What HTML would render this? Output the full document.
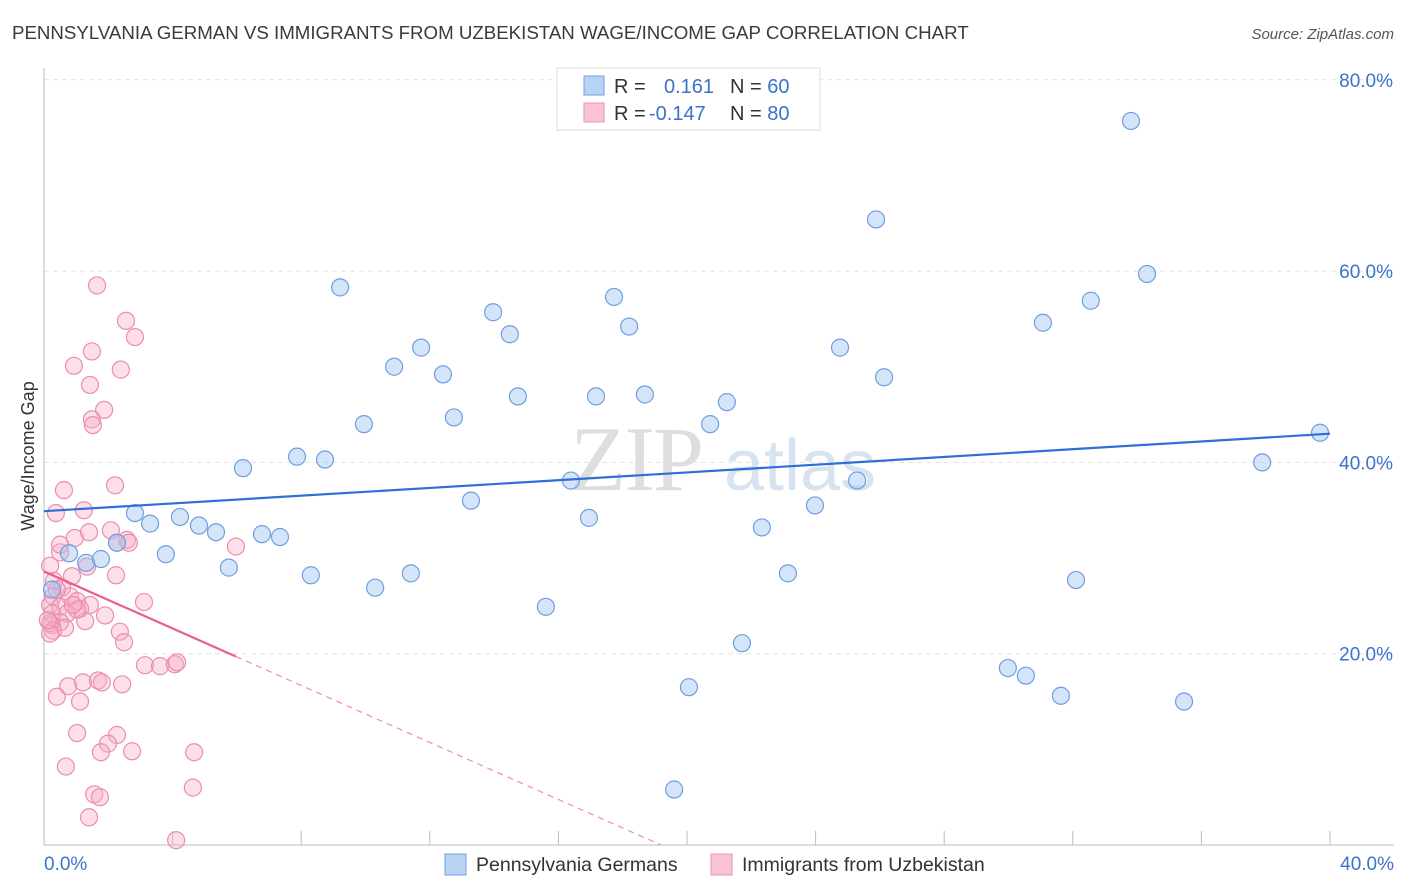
<!DOCTYPE html>
<html><head><meta charset="utf-8">
<style>
body{margin:0;background:#fff;font-family:"Liberation Sans",sans-serif;}
svg{display:block}
</style></head>
<body>
<svg id="chart" width="1406" height="892" xmlns="http://www.w3.org/2000/svg">
<text x="12" y="39" font-size="18.7" fill="#3a3a3a">PENNSYLVANIA GERMAN VS IMMIGRANTS FROM UZBEKISTAN WAGE/INCOME GAP CORRELATION CHART</text>
<text x="1394" y="39" font-size="15" fill="#555" font-style="italic" text-anchor="end">Source: ZipAtlas.com</text>
<text x="0" y="0" transform="translate(34,456) rotate(-90)" font-size="18" fill="#333" text-anchor="middle">Wage/Income Gap</text>
<g id="grid"></g>
<g>
<text x="636" y="490" font-size="92" font-family="Liberation Serif,serif" fill="#dedede" text-anchor="middle" letter-spacing="-2">ZIP</text>
<text x="800" y="490" font-size="72" fill="#d8e3f2" text-anchor="middle">atlas</text>
</g>
<g id="axes"></g>
<g id="pinkDots"></g>
<g id="blueDots"></g>
<g id="trends"></g>
<g>
<rect x="557" y="68" width="263" height="62" fill="#fff" stroke="#ddd"/>
<rect x="584" y="76" width="20" height="19" fill="#b9d3f5" stroke="#6e9fe0"/>
<rect x="584" y="103" width="20" height="19" fill="#f9c3d3" stroke="#ec93b0"/>
<text x="614" y="93" font-size="20" fill="#333">R = <tspan x="664" fill="#3a72cc">0.161</tspan><tspan x="730" fill="#333">N = </tspan><tspan fill="#3a72cc">60</tspan></text>
<text x="614" y="120" font-size="20" fill="#333">R = <tspan x="649" fill="#3a72cc">-0.147</tspan><tspan x="730" fill="#333">N = </tspan><tspan fill="#3a72cc">80</tspan></text>
</g>
<g>
<rect x="445" y="854" width="21" height="21" fill="#b9d3f5" stroke="#6e9fe0"/>
<text x="476" y="871" font-size="19.5" fill="#333">Pennsylvania Germans</text>
<rect x="711" y="854" width="21" height="21" fill="#f9c3d3" stroke="#ec93b0"/>
<text x="742" y="871" font-size="19.5" fill="#333">Immigrants from Uzbekistan</text>
</g>
</svg>
<script>
const yTicks=[20,40,60,80];
const yTickLabels=["20.0%","40.0%","60.0%","80.0%"];
const xTicks=[4,8,12,16,20,24,28,32,36,40];
const xEndLabels=["0.0%","40.0%"];
const blueX=[0.78,1.31,1.77,2.27,2.83,3.30,3.79,4.23,4.82,5.35,5.75,6.19,6.78,7.34,7.87,8.30,8.74,9.21,9.95,10.30,10.89,11.41,11.73,12.41,12.75,13.28,13.97,14.49,14.74,15.61,16.39,16.95,17.17,17.73,18.20,18.69,19.60,20.06,20.72,21.24,21.71,22.33,23.14,23.98,24.76,25.29,25.88,26.13,29.98,30.54,31.07,31.63,32.10,32.56,33.81,34.31,35.46,37.89,39.69,0.25];
const blueY=[30.5,29.5,29.9,31.6,34.7,33.6,30.4,34.3,33.4,32.7,29.0,39.4,32.5,32.2,40.6,28.2,40.3,58.3,44.0,26.9,50.0,28.4,52.0,49.2,44.7,36.0,55.7,53.4,46.9,24.9,38.1,34.2,46.9,57.3,54.2,47.1,5.8,16.5,44.0,46.3,21.1,33.2,28.4,35.5,52.0,38.1,65.4,48.9,18.5,17.7,54.6,15.6,27.7,56.9,75.7,59.7,15.0,40.0,43.1,26.7];
const pinkX=[1.65,2.55,2.83,1.49,0.93,2.39,1.43,1.87,1.49,1.52,0.62,2.21,0.37,1.24,0.96,1.40,2.08,2.58,2.64,2.27,5.97,0.50,1.34,2.24,0.19,0.87,0.31,0.56,0.81,0.28,1.03,1.43,3.11,0.19,0.50,1.12,0.25,0.72,1.90,1.28,0.50,0.25,1.03,0.65,0.90,2.36,2.49,0.19,0.28,0.19,3.14,3.61,4.07,4.14,0.75,1.21,1.68,1.80,2.43,0.40,1.12,1.03,2.27,1.99,1.77,2.74,4.67,0.68,4.63,1.56,1.74,1.40,4.11,0.40,0.12,0.50];
const pinkY=[58.5,54.8,53.1,51.6,50.1,49.7,48.1,45.5,44.5,43.9,37.1,37.6,34.7,35.0,32.1,32.7,32.9,31.9,31.6,31.6,31.2,30.6,29.1,28.2,29.2,28.1,27.6,26.9,26.0,26.0,25.5,25.1,25.4,25.1,24.9,24.7,24.2,24.2,24.0,23.4,23.3,23.0,24.6,22.7,25.1,22.3,21.2,23.2,22.4,22.1,18.8,18.7,18.9,19.1,16.6,17.0,17.2,17.0,16.8,15.5,15.0,11.7,11.5,10.6,9.7,9.8,9.7,8.2,6.0,5.3,5.0,2.9,0.5,26.7,23.5,31.4];
const blueTrend=[34.9,0.2025];
const pinkTrend=[28.6,-1.49];

const X0=44,X1=1330,Y0=845,PX_PER_Y=191.3/20;
const xs=v=>X0+(v/40)*(X1-X0);
const ys=v=>Y0-v*PX_PER_Y;
const NS="http://www.w3.org/2000/svg";
function mk(tag,attrs,parent){const e=document.createElementNS(NS,tag);for(const k in attrs)e.setAttribute(k,attrs[k]);parent.appendChild(e);return e;}
const grid=document.getElementById('grid'),axes=document.getElementById('axes');
yTicks.forEach((t,i)=>{
  const g=mk('line',{x1:44,x2:1394,y1:ys(t),y2:ys(t),stroke:'#e2e2e2','stroke-dasharray':'5,4'},grid);
  
  
  const l=mk('text',{x:1393,y:ys(t)+7,'font-size':19,fill:'#3a72cc','text-anchor':'end'},axes);
  l.textContent=yTickLabels[i];
  
  
});
const ya=mk('line',{x1:44,x2:44,y1:68,y2:845,stroke:'#bbb'},axes);


const xa=mk('line',{x1:44,x2:1394,y1:845,y2:845,stroke:'#bbb'},axes);


xTicks.forEach(t=>{
  const k=mk('line',{x1:xs(t),x2:xs(t),y1:831,y2:845,stroke:'#bbb'},axes);
  
  
});
const xl0=mk('text',{x:44,y:870,'font-size':19,fill:'#3a72cc'},axes);
xl0.textContent=xEndLabels[0];


const xl1=mk('text',{x:1394,y:870,'font-size':19,fill:'#3a72cc','text-anchor':'end'},axes);
xl1.textContent=xEndLabels[1];



const pd=document.getElementById('pinkDots');
pinkX.forEach((v,i)=>{
  const c=mk('circle',{cx:xs(v),cy:ys(pinkY[i]),r:8.5,fill:'rgba(246,170,196,0.38)',stroke:'#ea8eae','stroke-width':1.2},pd);
  
  
});
const bd=document.getElementById('blueDots');
blueX.forEach((v,i)=>{
  const c=mk('circle',{cx:xs(v),cy:ys(blueY[i]),r:8.5,fill:'rgba(160,196,242,0.45)',stroke:'#6f9fe0','stroke-width':1.2},bd);
  
  
});
const tr=document.getElementById('trends');
const bt=mk('line',{x1:xs(0),y1:ys(blueTrend[0]),x2:xs(40),y2:ys(blueTrend[0]+blueTrend[1]*40),stroke:'#2f6fd6','stroke-width':2.2},tr);


const pMaxX=Math.max(...pinkX);
const pt=mk('line',{x1:xs(0),y1:ys(pinkTrend[0]),x2:xs(pMaxX),y2:ys(pinkTrend[0]+pinkTrend[1]*pMaxX),stroke:'#e8608a','stroke-width':2.2},tr);


const zeroX=-pinkTrend[0]/pinkTrend[1];
const pdash=mk('line',{x1:xs(pMaxX),y1:ys(pinkTrend[0]+pinkTrend[1]*pMaxX),x2:xs(zeroX),y2:ys(0),stroke:'#ec8fae','stroke-width':1.2,'stroke-dasharray':'6,5'},tr);


</script>
</body></html>
